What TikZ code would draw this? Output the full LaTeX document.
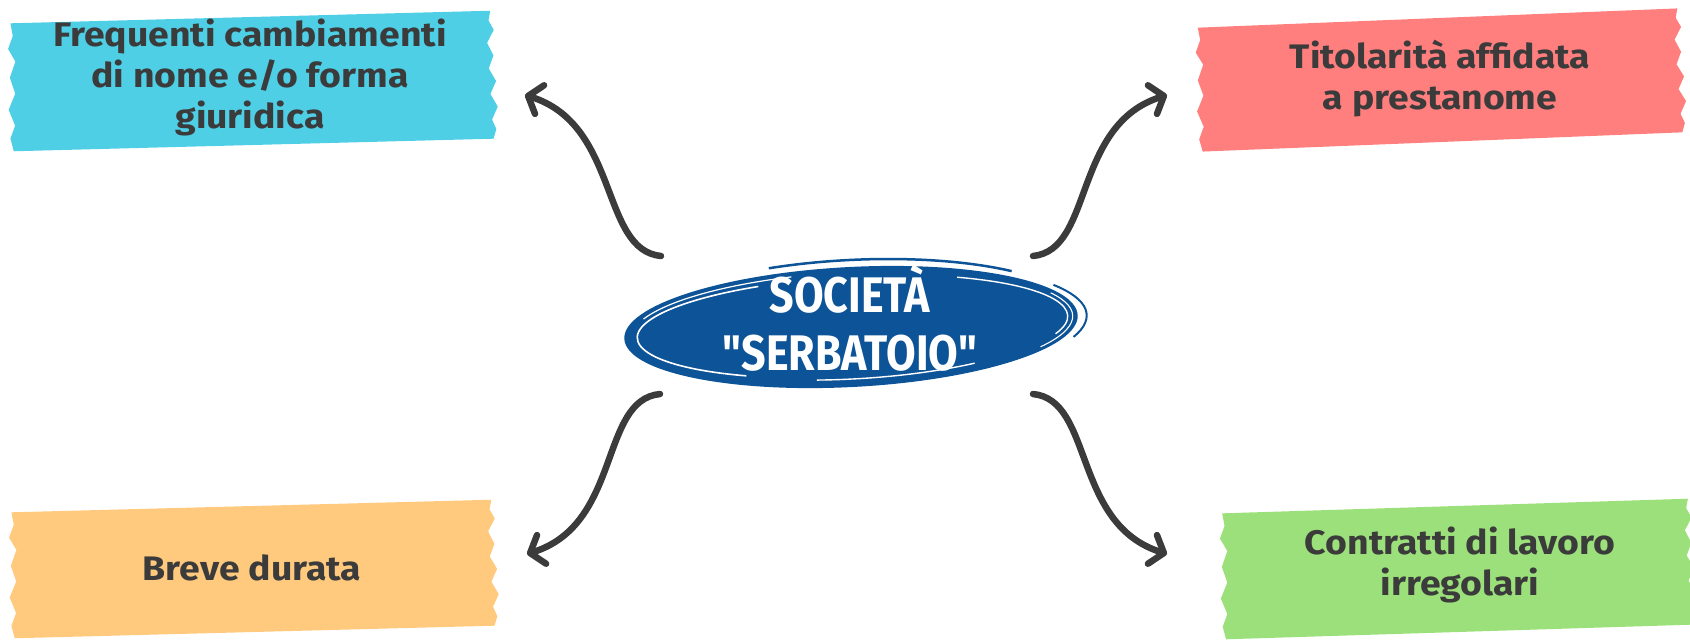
\documentclass[tikz,border=0pt]{standalone}
\usepackage{fontspec}
\setmainfont{Fira Sans}[FakeStretch=1.1]
\newfontfamily\corefont{Fira Sans}[FakeStretch=0.86]
\usetikzlibrary{arrows.meta}
\definecolor{CYAN}{HTML}{4ECFE6}
\definecolor{SALMON}{HTML}{FF7E7E}
\definecolor{APRICOT}{HTML}{FFC97E}
\definecolor{LIME}{HTML}{9BE07A}
\definecolor{NAVY}{HTML}{0D5397}
\definecolor{INK}{HTML}{3B3B3B}
\definecolor{WHITE}{HTML}{FFFFFF}

% torn tape: centre, half width, half height, angle, colour
\newcommand{\tape}[5]{%
  \fill[#5, shift={#1}, rotate=#4]
    (-#2,-#3) -- (#2,-#3) -- ({#2-2},{-0.85*#3}) -- ({#2+3},{-0.7*#3})
    -- ({#2-4},{-0.5*#3}) -- ({#2+2},{-0.3*#3}) -- ({#2-3},{-0.1*#3})
    -- ({#2+4},{0.1*#3}) -- ({#2-2},{0.3*#3}) -- ({#2+5},{0.5*#3})
    -- ({#2-1},{0.7*#3}) -- ({#2+3},{0.85*#3}) -- (#2,#3) -- (-#2,#3)
    -- ({-#2-3},{0.8*#3}) -- ({-#2+2},{0.6*#3}) -- ({-#2-4},{0.35*#3})
    -- ({-#2+3},{0.1*#3}) -- ({-#2-2},{-0.15*#3}) -- ({-#2+4},{-0.4*#3})
    -- ({-#2-3},{-0.6*#3}) -- ({-#2+2},{-0.8*#3}) -- cycle;}

\tikzset{
  tapetext/.style={text=INK, align=center, inner sep=0pt,
    font=\bfseries\fontsize{34}{41}\selectfont},
  coretext/.style={text=WHITE, align=center, inner sep=0pt,
    font=\corefont\bfseries\fontsize{50}{58}\selectfont},
  curl/.style={INK, line width=6.5pt, line cap=round,
    -{Straight Barb[length=12pt, width=30pt, round]}},
}

\begin{document}
\begin{tikzpicture}[x=1pt, y=-1pt]
    \useasboundingbox (0,0) rectangle (1690,641);
    % tapes
    \tape{(252,81)}{240}{64}{1.5}{CYAN}
    \tape{(1440,80)}{240}{62}{2.3}{SALMON}
    \tape{(253,569)}{240}{63}{1.5}{APRICOT}
    \tape{(1457,569)}{233}{63}{1.8}{LIME}
    % central ellipse
    \begin{scope}[shift={(851,327)}, rotate=3]
        \fill[NAVY] (0,0) ellipse [x radius=227, y radius=60];
        \draw[WHITE, line width=1.6pt] (120:214 and 50) arc [start angle=120, end angle=245, x radius=214, y radius=50];
        \draw[WHITE, line width=1.2pt] (200:220 and 55) arc [start angle=200, end angle=255, x radius=220, y radius=55];
        \draw[WHITE, line width=1.4pt] (300:217 and 51) arc [start angle=300, end angle=380, x radius=217, y radius=51];
        \draw[WHITE, line width=1.1pt] (335:222 and 56) arc [start angle=335, end angle=392, x radius=222, y radius=56];
        \draw[WHITE, line width=1.4pt] (100:212 and 52) arc [start angle=100, end angle=55, x radius=212, y radius=52];
        \draw[NAVY, line width=2.5pt] (250:231 and 67) arc [start angle=250, end angle=315, x radius=231, y radius=67];
        \draw[NAVY, line width=2pt] (330:236 and 63) arc [start angle=330, end angle=380, x radius=236, y radius=63];
    \end{scope}
    \node[coretext] (core) at (850,318) {SOCIETÀ\\"SERBATOIO"};
    % labels
    \node[tapetext] (names) at (250,77) {Frequenti cambiamenti\\di nome e/o forma\\giuridica};
    \node[tapetext] (owner) at (1440,79) {Titolarità affidata\\a prestanome};
    \node[tapetext] (short) at (252,568) {Breve durata};
    \node[tapetext] (work) at (1460,565) {Contratti di lavoro\\irregolari};
    % arrow ends
    \coordinate (names-a) at (661,256);
    \coordinate (names-b) at (525,95);
    \coordinate (owner-a) at (1033,256);
    \coordinate (owner-b) at (1167,95);
    \coordinate (short-a) at (660,394);
    \coordinate (short-b) at (527,554);
    \coordinate (work-a) at (1033,394);
    \coordinate (work-b) at (1167,554);
    \draw[curl] (names-a) .. controls +(-61,-6) and +(95,30) .. (names-b);
    \draw[curl] (owner-a) .. controls +(61,-6) and +(-95,30) .. (owner-b);
    \draw[curl] (short-a) .. controls +(-61,6) and +(95,-30) .. (short-b);
    \draw[curl] (work-a) .. controls +(61,6) and +(-95,-30) .. (work-b);
\end{tikzpicture}
\end{document}
